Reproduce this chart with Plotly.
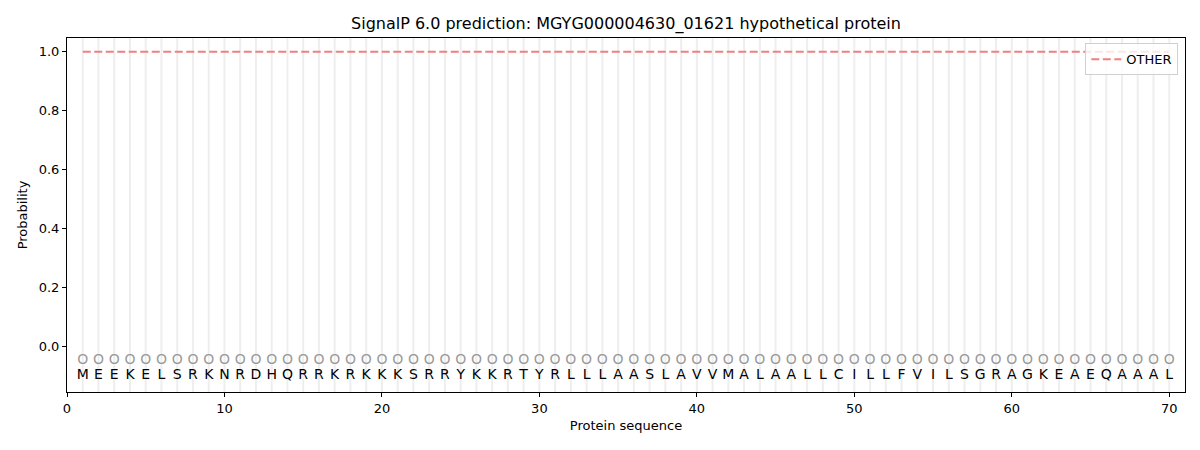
import plotly.graph_objects as go

sequence = list("MEEKELSRKNRDHQRRKRKKKSRRYKKRTYRLLLAASLAVVMALAALLCILLFVILSGRAGKEAEQAAAL")
positions = list(range(1, len(sequence) + 1))
other_prob = [1.0] * len(sequence)
pred_labels = ["O"] * len(sequence)

font = "DejaVu Sans"
fig = go.Figure()

# vertical grid lines per residue
for p in positions:
    fig.add_shape(type="line", x0=p, x1=p, y0=0, y1=1, xref="x", yref="paper",
                  line=dict(color="rgba(200,200,200,0.3)", width=2), layer="below")

fig.add_trace(go.Scatter(x=positions, y=other_prob, mode="lines", name="OTHER",
                         line=dict(color="#f08080", width=2, dash="8px,3.5px")))

fig.add_trace(go.Scatter(x=positions, y=[-0.047] * len(positions), mode="text",
                         text=pred_labels, showlegend=False, hoverinfo="skip",
                         textfont=dict(family=font, size=14, color="#9a9a9a")))
fig.add_trace(go.Scatter(x=positions, y=[-0.098] * len(positions), mode="text",
                         text=sequence, showlegend=False, hoverinfo="skip",
                         textfont=dict(family=font, size=14, color="black")))

fig.update_layout(
    width=1200, height=450,
    margin=dict(l=59, r=23, t=30, b=66, autoexpand=False),
    paper_bgcolor="white", plot_bgcolor="white",
    font=dict(family=font, size=13, color="black"),
    title=dict(text="SignalP 6.0 prediction: MGYG000004630_01621 hypothetical protein",
               x=(626 - 8) / 1200, xanchor="center", y=1 - 15 / 450, yanchor="middle",
               font=dict(family=font, size=16)),
    legend=dict(x=0.994, y=0.985, xanchor="right", yanchor="top",
                bordercolor="#d0d0d0", borderwidth=1, bgcolor="rgba(255,255,255,0.8)",
                font=dict(family=font, size=13)),
    showlegend=True,
)
fig.update_xaxes(range=[0, 71], tickvals=[0, 10, 20, 30, 40, 50, 60, 70],
                 showgrid=False, zeroline=False, showline=True, linecolor="black",
                 mirror=True, ticks="outside", ticklen=4, tickcolor="black",
                 automargin=False, tickfont=dict(size=13),
                 title=dict(text="Protein sequence", font=dict(size=13), standoff=6))
fig.update_yaxes(range=[-0.153, 1.047], tickvals=[0, 0.2, 0.4, 0.6, 0.8, 1.0],
                 ticktext=["0.0", "0.2", "0.4", "0.6", "0.8", "1.0"],
                 showgrid=False, zeroline=False, showline=True, linecolor="black",
                 mirror=True, ticks="outside", ticklen=4, tickcolor="black",
                 automargin=False, tickfont=dict(size=13),
                 title=dict(text="Probability", font=dict(size=13), standoff=8))

fig.write_html("out.html")
